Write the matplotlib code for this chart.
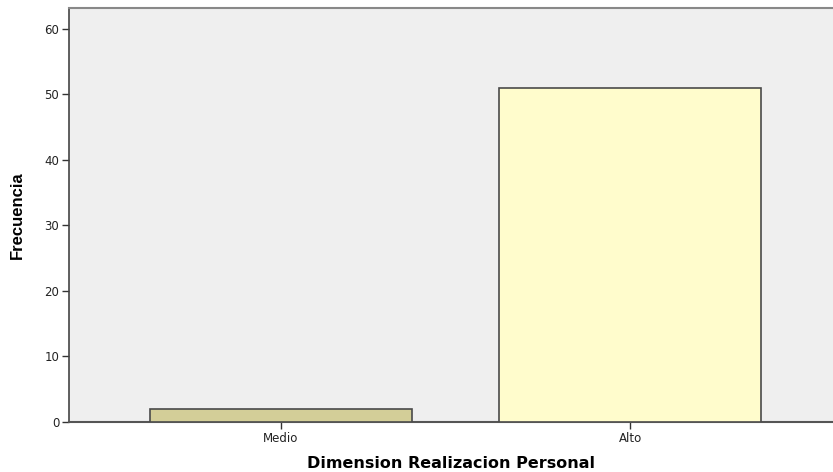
import matplotlib
matplotlib.use("Agg")
import matplotlib.pyplot as plt

# datos
categorias = ["Medio", "Alto"]
frecuencias = [2, 51]
colores = ["#d3ce98", "#fffccc"]
yticks = [0, 10, 20, 30, 40, 50, 60]

fig = plt.figure(figsize=(8.33, 4.72), dpi=100, facecolor="white")
ax = fig.add_axes([69 / 833, 50 / 472, 1 - 69 / 833, (422 - 8) / 472])
ax.set_facecolor("#efefef")

pos = list(range(len(categorias)))
ax.bar(pos, frecuencias, width=0.75, color=colores, edgecolor="#4a4a4a",
       linewidth=1.2, zorder=3)

ax.set_xlim(-0.607, 1.58)
ax.set_ylim(0, 63.2)
ax.set_xticks(pos)
ax.set_xticklabels(categorias, fontsize=8.5, family="DejaVu Sans", color="#222222")
ax.set_yticks(yticks)
ax.set_yticklabels([str(t) for t in yticks], fontsize=8.5, family="DejaVu Sans",
                   color="#222222")
ax.tick_params(axis="both", direction="out", length=5, width=1, color="#333333", pad=2)

ax.spines["right"].set_visible(False)
ax.spines["top"].set_color("#888888")
ax.spines["top"].set_linewidth(1.5)
ax.spines["left"].set_color("#444444")
ax.spines["bottom"].set_color("#555555")
ax.spines["left"].set_linewidth(1.2)
ax.spines["bottom"].set_linewidth(1.5)

ax.set_xlabel("Dimension Realizacion Personal", fontsize=11.5, fontweight="bold",
              family="DejaVu Sans", labelpad=8)
ax.set_ylabel("Frecuencia", fontsize=12, fontweight="bold",
              family="Liberation Sans", labelpad=14)

plt.savefig("out.png", dpi=100)
